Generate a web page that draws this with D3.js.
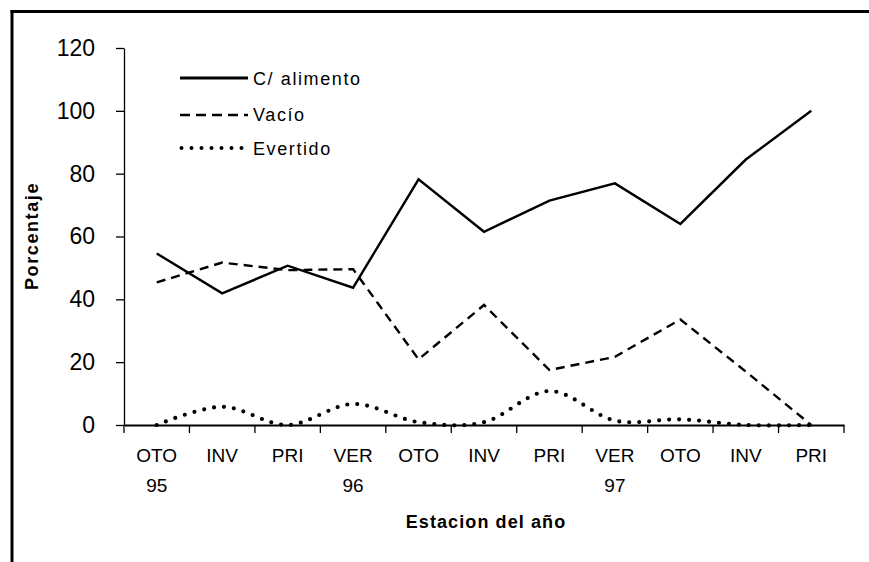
<!DOCTYPE html>
<html>
<head>
<meta charset="utf-8">
<script src="https://cdn.jsdelivr.net/npm/d3@7/dist/d3.min.js"></script>
<style>
  html, body { margin: 0; padding: 0; background: #fff; }
  svg { display: block; font-family: "Liberation Sans", Arial, sans-serif; }
</style>
</head>
<body>
<svg id="chart" width="869" height="562"></svg>
<script>
const categories = ["OTO", "INV", "PRI", "VER", "OTO", "INV", "PRI", "VER", "OTO", "INV", "PRI"];
const yearLabels = ["95", "", "", "96", "", "", "", "97", "", "", ""];
const cAlimento = [54.6, 41.9, 50.7, 43.7, 78.2, 61.5, 71.4, 76.9, 64.0, 84.5, 100];
const vacio     = [45.4, 51.7, 49.3, 49.6, 20.9, 38.2, 17.5, 21.7, 33.6, 17.0, 0];
const evertido  = [0, 5.8, 0, 6.7, 0.9, 0.9, 10.8, 1.4, 1.8, 0, 0];
const yTicks = [0, 20, 40, 60, 80, 100, 120];
const seriesNames = ["C/ alimento", "Vacío", "Evertido"];

const svg = d3.select("#chart");

// frame
svg.append("line").attr("x1", 10.5).attr("x2", 869).attr("y1", 11.5).attr("y2", 11.5)
  .attr("stroke", "#000").attr("stroke-width", 3);
svg.append("line").attr("x1", 12).attr("x2", 12).attr("y1", 10).attr("y2", 562)
  .attr("stroke", "#000").attr("stroke-width", 3);

const idx = d3.range(categories.length);
const x = d3.scaleBand().domain(idx).range([124, 844]).padding(0);
const y = d3.scaleLinear().domain([0, 120]).range([425, 48]);
const cx = i => x(i) + x.bandwidth() / 2;

// y axis
const yAxis = svg.append("g").attr("transform", "translate(124,0)")
  .call(d3.axisLeft(y).tickValues(yTicks).tickSize(8).tickPadding(21).tickSizeOuter(0));
yAxis.select(".domain").attr("stroke-width", 1.3);
yAxis.selectAll(".tick line").attr("stroke-width", 1.3);
yAxis.selectAll(".tick text").attr("font-size", 23).attr("fill", "#000")
  .attr("font-family", "'Liberation Sans', Arial, sans-serif");

// x axis
const xAxis = svg.append("g").attr("transform", "translate(0,425)")
  .call(d3.axisBottom(x).tickSize(0).tickFormat(""));
xAxis.select(".domain").attr("stroke-width", 2.2);
xAxis.selectAll(".tick").remove();
const boundaries = d3.range(categories.length + 1).map(i => 124 + i * x.step());
svg.append("g").selectAll("line").data(boundaries).join("line")
  .attr("x1", d => d).attr("x2", d => d).attr("y1", 425).attr("y2", 433)
  .attr("stroke", "#000").attr("stroke-width", 1.3);

svg.append("g").selectAll("text").data(idx).join("text")
  .attr("x", i => cx(i)).attr("y", 462).attr("text-anchor", "middle")
  .attr("font-size", 19).text(i => categories[i]);
svg.append("g").selectAll("text").data(idx.filter(i => yearLabels[i])).join("text")
  .attr("x", i => cx(i)).attr("y", 492).attr("text-anchor", "middle")
  .attr("font-size", 19).text(i => yearLabels[i]);

// axis titles
svg.append("text").attr("x", 486).attr("y", 528).attr("text-anchor", "middle")
  .attr("font-size", 18).attr("font-weight", "bold").attr("letter-spacing", 1.1)
  .text("Estacion del año");
svg.append("text").attr("transform", "translate(38,236) rotate(-90)").attr("text-anchor", "middle")
  .attr("font-size", 18).attr("font-weight", "bold").attr("letter-spacing", 1.6)
  .text("Porcentaje");

// lines
const lineLinear = d3.line().x((d, i) => cx(i)).y(d => y(d));
const lineSmooth = d3.line().x((d, i) => cx(i)).y(d => y(d)).curve(d3.curveCardinal.tension(0));

const styles = [
  { data: cAlimento, gen: lineLinear, width: 2.4, dash: null, cap: "butt" },
  { data: vacio, gen: lineLinear, width: 2.4, dash: "9,6", cap: "butt" },
  { data: evertido, gen: lineSmooth, width: 4.2, dash: "0,10", cap: "round" }
];
styles.forEach(s => {
  svg.append("path").attr("d", s.gen(s.data)).attr("fill", "none")
    .attr("stroke", "#000").attr("stroke-width", s.width)
    .attr("stroke-dasharray", s.dash).attr("stroke-linecap", s.cap)
    .attr("stroke-linejoin", "miter");
});

// legend
const legY = [78, 115, 148];
const legText = [85, 121, 155];
const legendStyles = [
  { width: 3, dash: null, cap: "butt" },
  { width: 2.4, dash: "10,6", cap: "butt" },
  { width: 4, dash: "0,10", cap: "round" }
];
seriesNames.forEach((name, i) => {
  const ls = legendStyles[i];
  svg.append("line").attr("x1", i === 2 ? 181.5 : 180).attr("x2", 248)
    .attr("y1", legY[i]).attr("y2", legY[i])
    .attr("stroke", "#000").attr("stroke-width", ls.width)
    .attr("stroke-dasharray", ls.dash).attr("stroke-linecap", ls.cap);
  svg.append("text").attr("x", 253).attr("y", legText[i]).attr("font-size", 18)
    .attr("letter-spacing", 1.6).text(name);
});
</script>
</body>
</html>
